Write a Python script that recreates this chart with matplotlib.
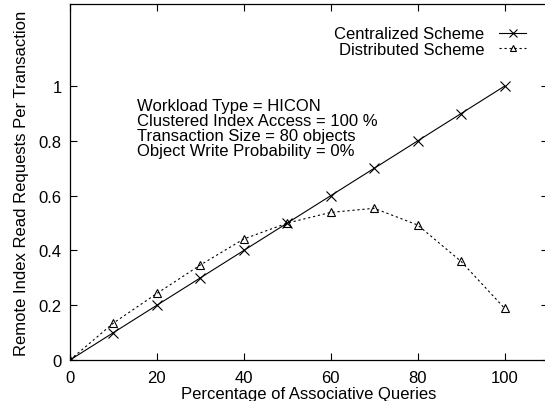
import matplotlib
matplotlib.use("Agg")
import matplotlib.pyplot as plt

plt.rcParams['font.family'] = ['Liberation Sans', 'DejaVu Sans']

x_pct = [0, 10, 20, 30, 40, 50, 60, 70, 80, 90, 100]
centralized = [0.0, 0.10, 0.20, 0.30, 0.40, 0.50, 0.60, 0.70, 0.80, 0.90, 1.00]
distributed = [0.0, 0.135, 0.243, 0.347, 0.442, 0.50, 0.539, 0.554, 0.493, 0.36, 0.189]
xticks = [0, 20, 40, 60, 80, 100]
yticks = [0, 0.2, 0.4, 0.6, 0.8, 1.0]
ytick_labels = ['0', '0.2', '0.4', '0.6', '0.8', '1']
info_lines = ["Workload Type = HICON",
              "Clustered Index Access = 100 %",
              "Transaction Size = 80 objects",
              "Object Write Probability = 0%"]

fig = plt.figure(figsize=(5.45, 4.02), dpi=100)
ax = fig.add_axes([70/545, 1 - 361/402, 478/545, 356/402])

ax.plot(x_pct, centralized, color='black', lw=0.8, marker='x', ms=7, mew=0.8,
        label='Centralized Scheme')
ax.plot(x_pct, distributed, color='black', lw=0.8, ls=(0, (2, 2.5)), marker='^', ms=6,
        mfc='none', mew=0.8, label='Distributed Scheme')

ax.set_xlim(0, 110)
ax.set_ylim(0, 1.3)
ax.set_xticks(xticks)
ax.set_yticks(yticks)
ax.set_yticklabels(ytick_labels)
ax.tick_params(direction='in', length=5, width=0.8, labelsize=12, top=True, right=True)
ax.tick_params(axis='y', pad=6)
ax.tick_params(axis='x', pad=7)
for s in ax.spines.values():
    s.set_linewidth(0.9)

ax.set_xlabel('Percentage of Associative Queries', fontsize=12, labelpad=1)
ax.set_ylabel('Remote Index Read Requests Per Transaction', fontsize=12, labelpad=7)

for i, line in enumerate(info_lines):
    ax.text(0.141, 0.702 - i * 0.0421, line, transform=ax.transAxes, fontsize=12,
            ha='left', va='baseline')

leg = ax.legend(loc='upper right', bbox_to_anchor=(0.975, 0.965), frameon=False,
                markerfirst=False, fontsize=12, handlelength=1.6, handletextpad=0.9,
                labelspacing=0.05, borderaxespad=0.2, markerscale=0.75)

fig.savefig('out.png', dpi=100)
